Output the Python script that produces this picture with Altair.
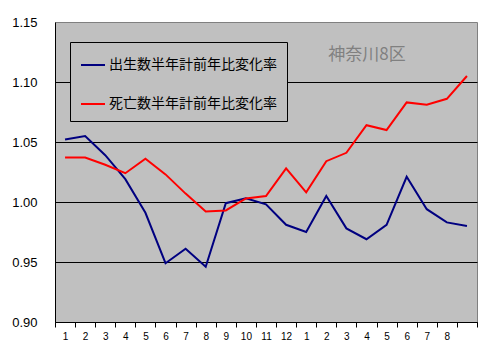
import json
import altair as alt
import pandas as pd

labels = [str(m) for m in range(1, 13)] + [str(m) for m in range(1, 9)] + [""]
births = [1.052, 1.055, 1.039, 1.019, 0.991, 0.949, 0.961, 0.946, 0.999, 1.003,
          0.998, 0.981, 0.975, 1.005, 0.978, 0.969, 0.981, 1.021, 0.994, 0.983, 0.980]
deaths = [1.037, 1.037, 1.031, 1.024, 1.036, 1.023, 1.007, 0.992, 0.993, 1.003,
          1.005, 1.028, 1.008, 1.034, 1.041, 1.064, 1.060, 1.083, 1.081, 1.086, 1.105]
series_names = ["出生数半年計前年比変化率", "死亡数半年計前年比変化率"]
series_colors = ["#000080", "#FF0000"]
y_ticks = [0.90, 0.95, 1.00, 1.05, 1.10, 1.15]
panel_title = "神奈川8区"

rows = []
for i in range(len(labels)):
    rows.append({"i": i, "series": series_names[0], "v": births[i]})
    rows.append({"i": i, "series": series_names[1], "v": deaths[i]})
df = pd.DataFrame(rows)

yscale = alt.Scale(domain=[0.90, 1.15], nice=False, zero=False)
yaxis = alt.Axis(values=y_ticks, format=".2f", grid=True, gridColor="black",
                 gridOpacity={"condition": {"test": "datum.value > 1.14", "value": 0}, "value": 1},
                 ticks=False, labelPadding=18, labelFontSize=13, labelColor="black",
                 domainColor="black", title=None, labelFont="Liberation Sans")

xscale = alt.Scale(type="band", paddingInner=0, paddingOuter=0,
                   domain=list(range(len(labels))))
xaxis = alt.Axis(labelExpr=json.dumps(labels) + "[datum.value]", labelAngle=0,
                 tickBand="extent", tickSize=5, tickColor="black",
                 domainColor="black", labelFontSize=10, labelColor="black",
                 labelPadding=4, grid=False, title=None, labelFont="Liberation Sans")

lines = alt.Chart(df).mark_line(strokeWidth=2).encode(
    x=alt.X("i:O", scale=xscale, axis=xaxis, bandPosition=0.5),
    y=alt.Y("v:Q", scale=yscale, axis=yaxis),
    color=alt.Color("series:N",
                    scale=alt.Scale(domain=series_names, range=series_colors),
                    legend=alt.Legend(title=None, orient="none", legendX=15, legendY=20,
                                      symbolType="stroke", symbolSize=576,
                                      symbolStrokeWidth=2, labelFontSize=14,
                                      labelFont="Noto Sans CJK JP", labelColor="black",
                                      labelLimit=0, labelOffset=3, padding=10, rowPadding=19,
                                      strokeColor="black", fillColor="#C0C0C0")),
    order="i:O",
)

title_text = alt.Chart(pd.DataFrame({"t": [panel_title]})).mark_text(
    font="Noto Sans CJK JP", fontSize=17, color="#808080", align="center", baseline="middle"
).encode(text="t:N", x=alt.value(312), y=alt.value(33))

chart = alt.layer(lines, title_text).properties(
    width=422, height=300, autosize=alt.AutoSizeParams(type="none"),
    padding={"left": 55, "top": 22, "right": 13, "bottom": 35},
    background="white",
).configure_view(fill="#C0C0C0", stroke="#808080", strokeWidth=1)

chart.save("out.html", embed_options={"renderer": "svg", "actions": False})
